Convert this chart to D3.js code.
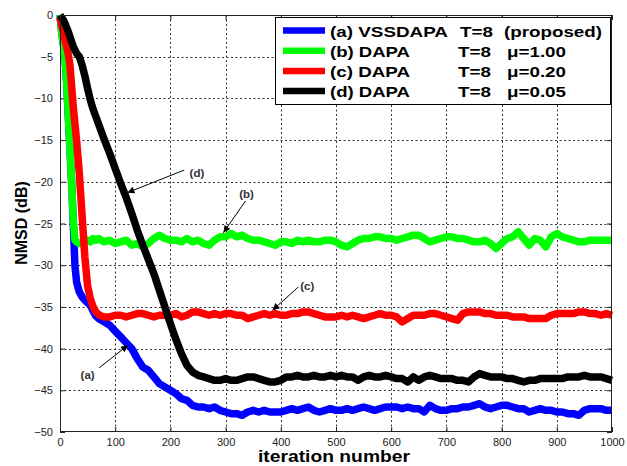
<!DOCTYPE html>
<html>
<head>
<meta charset="utf-8">
<script src="https://cdn.jsdelivr.net/npm/d3@7"></script>
<style>
  body { margin: 0; background: #fff; }
  svg { display: block; }
  text { font-family: "Liberation Sans", Arial, sans-serif; }
</style>
</head>
<body>
<svg id="chart" width="627" height="466"></svg>
<script>
// Iteration grid shared by all learning curves
const iterations = [
  0, 3, 6, 9, 12, 15, 18, 21, 24, 27, 30,
  35, 40, 45, 50, 55, 60, 65, 70, 75, 80,
  90, 100, 110, 120, 130, 140, 150, 160, 170, 180,
  190, 200, 210, 220, 230, 240, 250, 260, 270, 280,
  290, 300, 310, 320, 330, 340, 350, 360, 370, 380,
  390, 400, 410, 420, 430, 440, 450, 460, 470, 480,
  490, 500, 510, 520, 530, 540, 550, 560, 570, 580,
  590, 600, 610, 620, 630, 640, 650, 660, 670, 680,
  690, 700, 710, 720, 730, 740, 750, 760, 770, 780,
  790, 800, 810, 820, 830, 840, 850, 860, 870, 880,
  890, 900, 910, 920, 930, 940, 950, 960, 970, 980,
  990, 1000
];

// NMSD (dB) of each algorithm
const nmsdVSSDAPA = [
  0, -2, -3.5, -5, -8, -12, -16, -20, -25, -30, -32,
  -33.2, -33.8, -34.2, -34.5, -34.8, -35.5, -36.1, -36.4, -36.6, -36.8,
  -37.2, -37.9, -38.6, -39.3, -40.0, -41.2, -42.2, -42.6, -43.4, -44.2,
  -44.6, -45.0, -45.4, -46.0, -46.2, -46.8, -47.0, -47.0, -47.2, -47.0,
  -47.4, -47.6, -47.8, -47.8, -48.0, -47.6, -47.4, -47.6, -47.4, -47.6,
  -47.6, -47.6, -47.4, -47.2, -47.4, -47.2, -47.0, -47.4, -47.6, -47.4,
  -47.2, -47.4, -47.4, -47.2, -47.4, -47.2, -47.0, -47.2, -47.4, -47.2,
  -47.0, -47.0, -47.0, -47.2, -47.0, -47.2, -47.2, -47.6, -46.8, -47.2,
  -47.4, -47.4, -47.2, -47.2, -47.0, -47.0, -46.8, -46.6, -47.0, -47.2,
  -47.0, -46.8, -46.8, -47.0, -47.2, -47.2, -47.6, -47.4, -47.2, -47.4,
  -47.4, -47.6, -47.6, -47.8, -47.8, -48.0, -47.4, -47.2, -47.2, -47.2,
  -47.4, -47.4
];
const nmsdMu100 = [
  0, -2, -3.5, -5, -8, -12, -16, -20, -24.5, -27, -27.2,
  -27.4, -27.4, -27.3, -27.0, -27.2, -26.8, -27.0, -26.8, -27.0, -27.2,
  -27.0, -27.4, -27.2, -27.0, -27.6, -27.4, -27.8, -27.4, -26.8, -26.4,
  -26.8, -27.0, -27.0, -27.2, -26.8, -27.2, -27.0, -27.4, -27.6, -27.0,
  -26.6, -26.6, -26.2, -26.6, -26.4, -26.8, -27.0, -27.0, -27.2, -27.4,
  -27.6, -27.2, -27.2, -27.4, -27.0, -27.2, -27.0, -27.2, -27.2, -27.0,
  -27.0, -27.2, -27.6, -27.8, -27.4, -27.0, -26.8, -26.8, -26.6, -26.6,
  -26.8, -26.8, -27.0, -26.8, -26.6, -26.4, -26.4, -26.8, -27.2, -27.0,
  -26.8, -26.6, -26.6, -26.8, -26.8, -27.0, -27.2, -27.2, -27.0, -27.4,
  -28.0, -27.4, -26.8, -26.6, -26.0, -26.8, -27.6, -26.8, -27.0, -27.8,
  -26.6, -26.2, -26.6, -26.8, -27.0, -27.2, -27.2, -27.0, -27.0, -27.0,
  -27.0, -27.0
];
const nmsdMu020 = [
  -0.3, -1.2, -2.0, -3.0, -3.8, -4.7, -6.0, -8.5, -11.0, -13.0, -15.0,
  -19.0, -24.0, -29.0, -32.5, -34.0, -35.0, -35.6, -35.9, -36.1, -36.2,
  -36.2, -36.0, -36.0, -36.2, -36.0, -35.8, -35.8, -36.0, -36.2, -36.0,
  -36.0, -36.0, -35.8, -36.2, -36.0, -35.6, -35.6, -35.8, -36.0, -35.8,
  -36.0, -35.8, -35.8, -36.0, -36.0, -36.4, -36.2, -36.0, -35.8, -36.0,
  -35.8, -36.0, -36.0, -35.8, -35.8, -35.6, -35.6, -35.8, -36.0, -36.2,
  -36.2, -36.2, -36.0, -36.2, -36.0, -36.2, -36.4, -36.2, -36.0, -35.8,
  -36.0, -36.0, -36.2, -36.8, -36.4, -36.0, -36.0, -36.0, -35.8, -35.8,
  -36.0, -36.2, -36.4, -36.6, -35.8, -35.6, -35.6, -35.6, -35.8, -35.8,
  -36.0, -36.0, -36.0, -36.2, -36.2, -36.2, -36.4, -36.4, -36.4, -36.4,
  -36.0, -35.8, -35.8, -35.8, -35.8, -35.6, -35.6, -35.8, -35.8, -36.0,
  -35.8, -36.0
];
const nmsdMu005 = [
  0, -0.3, -0.6, -1.0, -1.5, -2.0, -2.6, -3.2, -3.8, -4.2, -4.6,
  -5.0, -6.0, -7.3, -8.8, -10.2, -11.3, -12.2, -13.1, -14.0, -14.9,
  -16.6, -18.4, -20.2, -21.9, -23.8, -25.8, -27.6, -29.3, -31.0, -33.0,
  -35.0, -37.0, -38.9, -40.6, -42.0, -42.8, -43.2, -43.4, -43.6, -43.8,
  -43.8, -43.6, -43.8, -43.8, -43.6, -43.4, -43.4, -43.6, -43.8, -44.0,
  -44.0, -43.8, -43.4, -43.4, -43.2, -43.4, -43.4, -43.2, -43.4, -43.4,
  -43.2, -43.4, -43.2, -43.4, -43.4, -43.8, -43.4, -43.2, -43.4, -43.4,
  -43.2, -43.4, -43.6, -43.6, -44.0, -43.4, -43.8, -43.4, -43.2, -43.4,
  -43.6, -43.6, -43.6, -43.8, -43.8, -44.0, -43.4, -43.0, -43.2, -43.4,
  -43.4, -43.4, -43.6, -43.6, -43.8, -44.0, -43.8, -43.8, -43.6, -43.6,
  -43.6, -43.6, -43.6, -43.4, -43.4, -43.4, -43.2, -43.4, -43.4, -43.4,
  -43.6, -43.8
];

// Legend entries: tag, algorithm, step-size setting
const seriesTags = ["(a)", "(b)", "(c)", "(d)"];
const seriesNames = ["VSSDAPA", "DAPA", "DAPA", "DAPA"];
const seriesOrder = ["T=8", "T=8", "T=8", "T=8"];
const seriesNotes = ["(proposed)", "\u03bc=1.00", "\u03bc=0.20", "\u03bc=0.05"];
const seriesColors = ["#0000ff", "#00ff00", "#ff0000", "#000000"];
const seriesValues = [nmsdVSSDAPA, nmsdMu100, nmsdMu020, nmsdMu005];

const xTicks = [0, 100, 200, 300, 400, 500, 600, 700, 800, 900, 1000];
const yTicks = [0, -5, -10, -15, -20, -25, -30, -35, -40, -45, -50];

// Curve annotations: label, label position (iteration, dB), arrow tail, arrow head
const noteLabels = ["(d)", "(b)", "(c)", "(a)"];
const noteText = [[248, -19.0], [338, -21.5], [448, -32.5], [50, -43.2]];
const noteTail = [[225, -18.6], [336, -22.3], [432, -32.6], [71, -42.3]];
const noteHead = [[122, -21.3], [296, -26.1], [385, -35.4], [123, -39.6]];

const svg = d3.select("#chart");
const L = 60, R = 612, T = 15, B = 432;
const x = d3.scaleLinear().domain([0, 1000]).range([L, R]);
const y = d3.scaleLinear().domain([-50, 0]).range([B, T]);

// Dotted grid
const grid = svg.append("g").attr("stroke", "#333").attr("stroke-width", 1)
  .attr("stroke-dasharray", "2,2.5");
grid.selectAll("line.v").data(xTicks.slice(1, -1)).join("line")
  .attr("x1", d => Math.round(x(d)) + 0.5).attr("x2", d => Math.round(x(d)) + 0.5)
  .attr("y1", T).attr("y2", B);
grid.selectAll("line.h").data(yTicks.slice(1, -1)).join("line")
  .attr("y1", d => Math.round(y(d)) + 0.5).attr("y2", d => Math.round(y(d)) + 0.5)
  .attr("x1", L).attr("x2", R);

// Axes with inward ticks on all four sides
function styleAxis(g) {
  g.select(".domain").remove();
  g.selectAll(".tick line").attr("stroke", "#222");
  g.selectAll(".tick text").attr("fill", "#222").attr("font-size", 11);
}
svg.append("g").attr("transform", `translate(0,${B})`)
  .call(d3.axisBottom(x).tickValues(xTicks).tickSize(-5).tickPadding(6).tickFormat(d3.format("d")))
  .call(styleAxis);
svg.append("g").attr("transform", `translate(${L},0)`)
  .call(d3.axisLeft(y).tickValues(yTicks).tickSize(-5).tickPadding(7).tickFormat(d3.format("d")))
  .call(styleAxis);
svg.append("g").attr("transform", `translate(0,${T})`)
  .call(d3.axisTop(x).tickValues(xTicks).tickSize(-5).tickFormat(""))
  .call(styleAxis);
svg.append("g").attr("transform", `translate(${R},0)`)
  .call(d3.axisRight(y).tickValues(yTicks).tickSize(-5).tickFormat(""))
  .call(styleAxis);

// Learning curves, drawn (a) to (d)
const line = d3.line().x((d, i) => x(iterations[i])).y(d => y(d));
const curves = svg.append("g");
seriesValues.forEach((vals, k) => {
  curves.append("path").datum(vals)
    .attr("fill", "none").attr("stroke", seriesColors[k])
    .attr("stroke-width", 7.5).attr("stroke-linejoin", "round").attr("stroke-linecap", "butt")
    .attr("d", line);
});

// Frame
svg.append("rect").attr("x", L + 0.5).attr("y", T + 0.5)
  .attr("width", R - L - 1).attr("height", B - T - 1)
  .attr("fill", "none").attr("stroke", "#222").attr("stroke-width", 1);

// Annotation arrows
svg.append("defs").append("marker").attr("id", "head")
  .attr("viewBox", "0 0 10 10").attr("refX", 10).attr("refY", 5)
  .attr("markerWidth", 9).attr("markerHeight", 7).attr("markerUnits", "userSpaceOnUse")
  .attr("orient", "auto")
  .append("path").attr("d", "M0,0 L10,5 L0,10 z").attr("fill", "#000");
const notes = svg.append("g");
noteLabels.forEach((lab, k) => {
  notes.append("line")
    .attr("x1", x(noteTail[k][0])).attr("y1", y(noteTail[k][1]))
    .attr("x2", x(noteHead[k][0])).attr("y2", y(noteHead[k][1]))
    .attr("stroke", "#000").attr("stroke-width", 1).attr("marker-end", "url(#head)");
  notes.append("text").attr("x", x(noteText[k][0])).attr("y", y(noteText[k][1]))
    .attr("text-anchor", "middle").attr("dy", "0.35em")
    .attr("font-size", 11.5).attr("font-weight", "bold").attr("fill", "#333").text(lab);
});

// Legend
const lg = svg.append("g");
lg.append("rect").attr("x", 275.5).attr("y", 17.5).attr("width", 335).attr("height", 87)
  .attr("fill", "#fff").attr("stroke", "#000").attr("stroke-width", 1);
seriesTags.forEach((tag, k) => {
  const ry = 30.5 + k * 20.2;
  lg.append("line").attr("x1", 283).attr("x2", 325).attr("y1", ry).attr("y2", ry)
    .attr("stroke", seriesColors[k]).attr("stroke-width", 6.5);
  const t = lg.append("g").attr("font-size", 15.5).attr("font-weight", "bold").attr("fill", "#000");
  const name = `${tag} ${seriesNames[k]}`;
  t.append("text").attr("x", 330).attr("y", ry + 6).text(name)
    .attr("textLength", k === 0 ? 118 : 80).attr("lengthAdjust", "spacingAndGlyphs");
  t.append("text").attr("x", k === 0 ? 460 : 458).attr("y", ry + 6).text(seriesOrder[k])
    .attr("textLength", 33).attr("lengthAdjust", "spacingAndGlyphs");
  t.append("text").attr("x", k === 0 ? 504 : 507).attr("y", ry + 6).text(seriesNotes[k])
    .attr("textLength", k === 0 ? 98 : 59).attr("lengthAdjust", "spacingAndGlyphs");
});

// Axis titles
svg.append("text").attr("x", 334).attr("y", 462).attr("text-anchor", "middle")
  .attr("font-size", 17).attr("font-weight", "bold").attr("fill", "#000")
  .attr("textLength", 152).attr("lengthAdjust", "spacingAndGlyphs")
  .text("iteration number");
svg.append("text").attr("transform", "translate(27,223) rotate(-90)")
  .attr("text-anchor", "middle").attr("font-size", 16).attr("font-weight", "bold").attr("fill", "#000")
  .text("NMSD (dB)");
</script>
</body>
</html>
